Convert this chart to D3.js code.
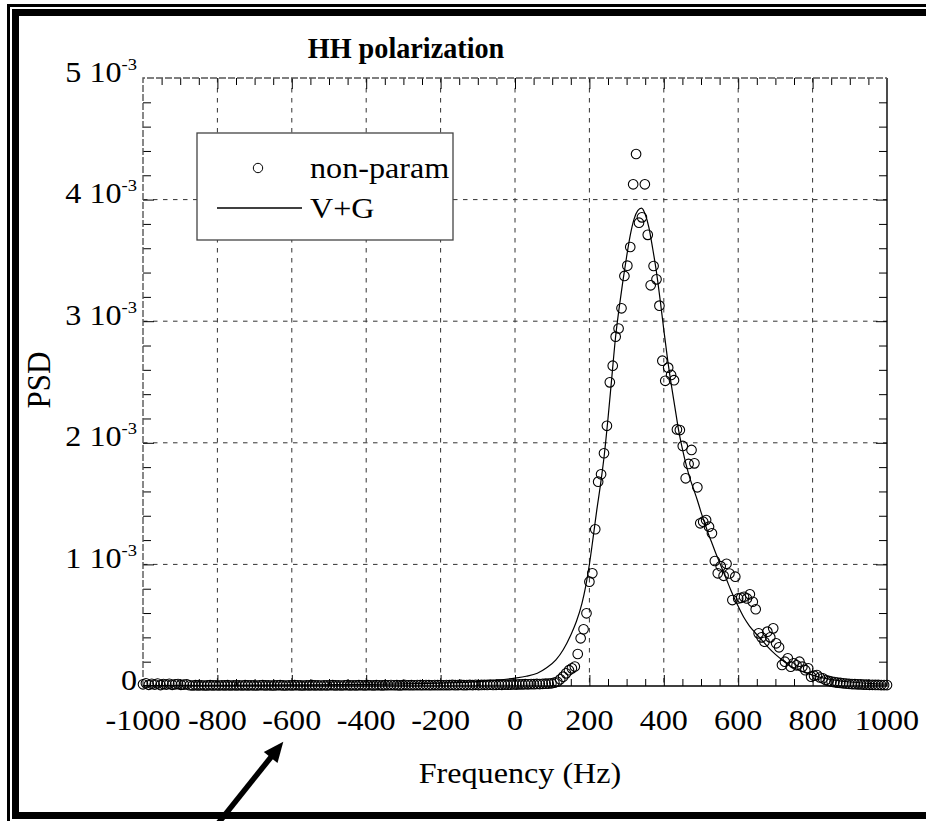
<!DOCTYPE html>
<html>
<head>
<meta charset="utf-8">
<script src="https://cdn.jsdelivr.net/npm/d3@7"></script>
<style>
  html, body { margin: 0; padding: 0; background: #fff; }
  svg { display: block; }
  text { font-family: "Liberation Serif", "Times New Roman", Times, serif; fill: #000; }
</style>
</head>
<body>
<svg id="chart" width="926" height="821"></svg>
<script>
// ---------------- DATA (PSD values in units of 1e-3) ----------------
const freqMin = -1000;
const freqMax = 1000;

// non-parametric PSD, one value per frequency bin (256 bins from -1000 to 1000 Hz)
const psdNonParam = [
  0.014,0.022,0.010,0.018,0.012,0.020,0.008,0.016,0.012,0.018,0.010,0.014,0.016,0.010,0.012,0.014,
  0.006,0.004,0.007,0.005,0.006,0.004,0.005,0.007,0.005,0.006,0.004,0.006,0.005,0.007,0.004,0.006,
  0.005,0.006,0.004,0.007,0.005,0.006,0.005,0.004,0.006,0.007,0.005,0.006,0.004,0.005,0.006,0.007,
  0.005,0.004,0.006,0.005,0.007,0.006,0.005,0.004,0.006,0.005,0.007,0.005,0.006,0.004,0.006,0.005,
  0.006,0.007,0.005,0.006,0.004,0.006,0.007,0.005,0.006,0.005,0.007,0.006,0.005,0.007,0.006,0.005,
  0.007,0.006,0.005,0.007,0.006,0.008,0.006,0.007,0.005,0.007,0.008,0.006,0.007,0.006,0.008,0.007,
  0.006,0.008,0.007,0.006,0.008,0.007,0.008,0.006,0.008,0.007,0.009,0.007,0.008,0.009,0.007,0.008,
  0.009,0.008,0.010,0.008,0.009,0.010,0.009,0.011,0.009,0.010,0.011,0.010,0.012,0.011,0.012,0.013,
  0.012,0.014,0.013,0.015,0.014,0.016,0.015,0.017,0.016,0.018,0.019,0.020,
  0.022,0.028,0.035,0.055,0.077,0.104,0.13,0.145,0.16,0.263,0.392,0.466,0.598,0.858,0.927,1.289,
  1.68,1.741,1.914,2.14,2.497,2.634,2.873,2.94,3.106,3.372,3.457,3.61,4.126,4.375,3.81,3.854,
  4.126,3.71,3.295,3.454,3.344,3.128,2.675,2.51,2.618,2.558,2.515,2.11,2.105,1.974,1.708,1.826,
  1.941,1.831,1.634,1.338,1.351,1.365,1.31,1.256,1.028,0.927,0.985,0.906,1.005,0.925,0.707,0.899,
  0.72,0.725,0.734,0.72,0.754,0.693,0.631,0.433,0.40,0.364,0.447,0.40,0.474,0.351,0.318,0.173,
  0.2,0.228,0.159,0.187,0.17,0.2,0.159,0.13,0.146,0.077,0.085,0.09,0.07,0.063,0.049,0.042,
  0.036,0.032,0.028,0.025,0.022,0.02,0.018,0.016,0.015,0.014,0.013,0.012,0.011,0.01,0.01,0.009,0.009,0.008,0.008,0.008
];

// V+G fitted curve, read at these frequencies
const fitFreq = [-1000,-800,-600,-400,-300,-200,-100,-50,0,30,60,85,110,130,150,165,180,190,200,210,220,230,240,250,260,270,280,290,300,310,320,330,340,350,360,370,380,390,400,410,420,430,440,450,460,470,480,490,500,510,520,530,540,550,560,570,580,590,600,615,630,645,660,680,700,720,740,760,780,800,830,860,900,950,1000];
const fitPsd  = [0.004,0.006,0.009,0.013,0.017,0.024,0.036,0.048,0.065,0.08,0.105,0.15,0.215,0.3,0.42,0.53,0.68,0.82,1.0,1.22,1.45,1.66,1.9,2.2,2.53,2.86,3.11,3.33,3.53,3.71,3.84,3.91,3.93,3.88,3.77,3.6,3.41,3.18,2.93,2.69,2.48,2.29,2.1,1.95,1.82,1.71,1.62,1.53,1.43,1.34,1.25,1.17,1.09,1.015,0.94,0.865,0.79,0.72,0.655,0.565,0.495,0.44,0.39,0.32,0.26,0.21,0.165,0.135,0.11,0.09,0.065,0.048,0.033,0.022,0.015];

const xTickValues = [-1000,-800,-600,-400,-200,0,200,400,600,800,1000];
const xTickLabels = ["-1000","-800","-600","-400","-200","0","200","400","600","800","1000"];
const yTickValues = [0,1,2,3,4,5];
const yTickMantissa = ["0","1 10","2 10","3 10","4 10","5 10"];
const yTickExponent = ["","-3","-3","-3","-3","-3"];
const seriesNames = ["non-param","V+G"];
const titleText = "HH polarization";
const xLabelText = "Frequency (Hz)";
const yLabelText = "PSD";

// ---------------- LAYOUT ----------------
const W = 926, H = 821;
const plot = { left: 143, right: 887, top: 78, bottom: 686 };
const FS = 29.5;       // base font size
const SX = 1.09;       // horizontal text stretch of the original

const svg = d3.select("#chart");
svg.append("rect").attr("width", W).attr("height", H).attr("fill", "#fff");

const x = d3.scaleLinear().domain([freqMin, freqMax]).range([plot.left, plot.right]);
const y = d3.scaleLinear().domain([0, 5]).range([plot.bottom, plot.top]);

const binFreq = psdNonParam.map((_, i) => freqMin + i * (freqMax - freqMin) / (psdNonParam.length - 1));

function stext(g, px, py, str, size, anchor, weight, sx) {
  return g.append("text")
    .attr("transform", `translate(${px},${py}) scale(${sx || SX},1)`)
    .attr("text-anchor", anchor || "middle")
    .style("font-size", size + "px")
    .style("font-weight", weight || "normal")
    .text(str);
}

// ---------------- outer frame ----------------
const frame = svg.append("g").attr("fill", "none").attr("stroke", "#000");
frame.append("path").attr("d", `M8.5,830 V5.5 H940`).attr("stroke-width", 3);
frame.append("path").attr("d", `M940,12.5 H15.5 V815.5 H940`).attr("stroke-width", 7);

// ---------------- grid ----------------
const grid = svg.append("g").attr("stroke", "#333").attr("stroke-width", 1)
  .attr("stroke-dasharray", "4.5,5.5").attr("fill", "none");
grid.selectAll(".gx").data(xTickValues.slice(1, -1)).join("line")
  .attr("x1", d => x(d)).attr("x2", d => x(d))
  .attr("y1", plot.top).attr("y2", plot.bottom);
grid.selectAll(".gy").data(yTickValues.slice(1, -1)).join("line")
  .attr("x1", plot.left).attr("x2", plot.right)
  .attr("y1", d => y(d)).attr("y2", d => y(d));

// ---------------- axes box + ticks ----------------
const xMinor = d3.range(-950, 1000, 50).filter(v => v % 200 !== 0);
const xMajor = xTickValues.slice(1, -1);
const yMinor = d3.range(0.2, 5, 0.2).filter(v => Math.abs(v - Math.round(v)) > 1e-6);
const yMajor = yTickValues.slice(1, -1);

function tickAxis(axisFn, scale, values, size, tx, ty) {
  const g = svg.append("g").attr("transform", `translate(${tx},${ty})`)
    .call(axisFn(scale).tickValues(values).tickSize(size).tickFormat(""));
  g.select(".domain").remove();
  g.selectAll(".tick line").attr("stroke", "#000").attr("stroke-width", 1);
  return g;
}
tickAxis(d3.axisBottom, x, xMinor, -7, 0, plot.bottom);
tickAxis(d3.axisBottom, x, xMajor, -11, 0, plot.bottom);
tickAxis(d3.axisTop, x, xMinor, -7, 0, plot.top);
tickAxis(d3.axisTop, x, xMajor, -11, 0, plot.top);
tickAxis(d3.axisLeft, y, yMinor, -8, plot.left, 0);
tickAxis(d3.axisLeft, y, yMajor, -11, plot.left, 0);
tickAxis(d3.axisRight, y, yMinor, -8, plot.right, 0);
tickAxis(d3.axisRight, y, yMajor, -11, plot.right, 0);

// box edges: bottom/right solid black, top/left greyish
svg.append("path").attr("d", `M${plot.left},${plot.bottom} H${plot.right} V${plot.top}`)
  .attr("fill", "none").attr("stroke", "#000").attr("stroke-width", 1.4);
svg.append("path").attr("d", `M${plot.left},${plot.bottom} V${plot.top} H${plot.right}`)
  .attr("fill", "none").attr("stroke", "#555").attr("stroke-width", 1.4)
  .attr("stroke-dasharray", "7,2");

// ---------------- tick labels ----------------
const labels = svg.append("g");
xTickValues.forEach((v, i) => stext(labels, x(v), 730, xTickLabels[i], FS, "middle"));
yTickValues.forEach((v, i) => {
  const t = labels.append("text")
    .attr("transform", `translate(137,${y(v) + 3.5}) scale(${SX},1)`)
    .attr("text-anchor", "end")
    .style("font-size", FS + "px");
  t.append("tspan").text(yTickMantissa[i]);
  if (yTickExponent[i]) {
    t.append("tspan").attr("dy", -12).style("font-size", "17px").text(yTickExponent[i]);
  }
});

// axis titles + title
stext(svg, 520, 783, xLabelText, FS, "middle");
svg.append("text")
  .attr("transform", `translate(50,${(plot.top + plot.bottom) / 2 - 2}) scale(${SX},1) rotate(-90)`)
  .attr("text-anchor", "middle").style("font-size", "31px").text(yLabelText);
stext(svg, 406, 58, titleText, 30, "middle", "bold", 0.94);

// ---------------- legend ----------------
const leg = svg.append("g");
leg.append("rect").attr("x", 197).attr("y", 133).attr("width", 256).attr("height", 107)
  .attr("fill", "#fff").attr("stroke", "#444").attr("stroke-width", 1.3);
leg.append("circle").attr("cx", 258).attr("cy", 168).attr("r", 4.7)
  .attr("fill", "none").attr("stroke", "#000").attr("stroke-width", 1);
stext(leg, 310, 178, seriesNames[0], FS, "start");
leg.append("line").attr("x1", 217).attr("x2", 302).attr("y1", 208).attr("y2", 208)
  .attr("stroke", "#000").attr("stroke-width", 1.3);
stext(leg, 310, 218, seriesNames[1], FS, "start");

// ---------------- fitted curve ----------------
const line = d3.line().x(d => x(d[0])).y(d => y(d[1])).curve(d3.curveMonotoneX);
svg.append("path").datum(fitFreq.map((f, i) => [f, fitPsd[i]]))
  .attr("d", line).attr("fill", "none").attr("stroke", "#000").attr("stroke-width", 1.2);

// ---------------- non-parametric points ----------------
svg.append("g").selectAll("circle").data(psdNonParam).join("circle")
  .attr("cx", (d, i) => x(binFreq[i]))
  .attr("cy", d => y(d))
  .attr("r", 4.8)
  .attr("fill", "none").attr("stroke", "#000").attr("stroke-width", 1.1);

// ---------------- annotation arrow ----------------
const arrow = svg.append("g");
arrow.append("line").attr("x1", 212).attr("y1", 831).attr("x2", 271.5).attr("y2", 756.5)
  .attr("stroke", "#000").attr("stroke-width", 5.5);
arrow.append("path").attr("d", "M283.3,741.7 L277.5,763 L263.8,752 Z").attr("fill", "#000");
</script>
</body>
</html>
